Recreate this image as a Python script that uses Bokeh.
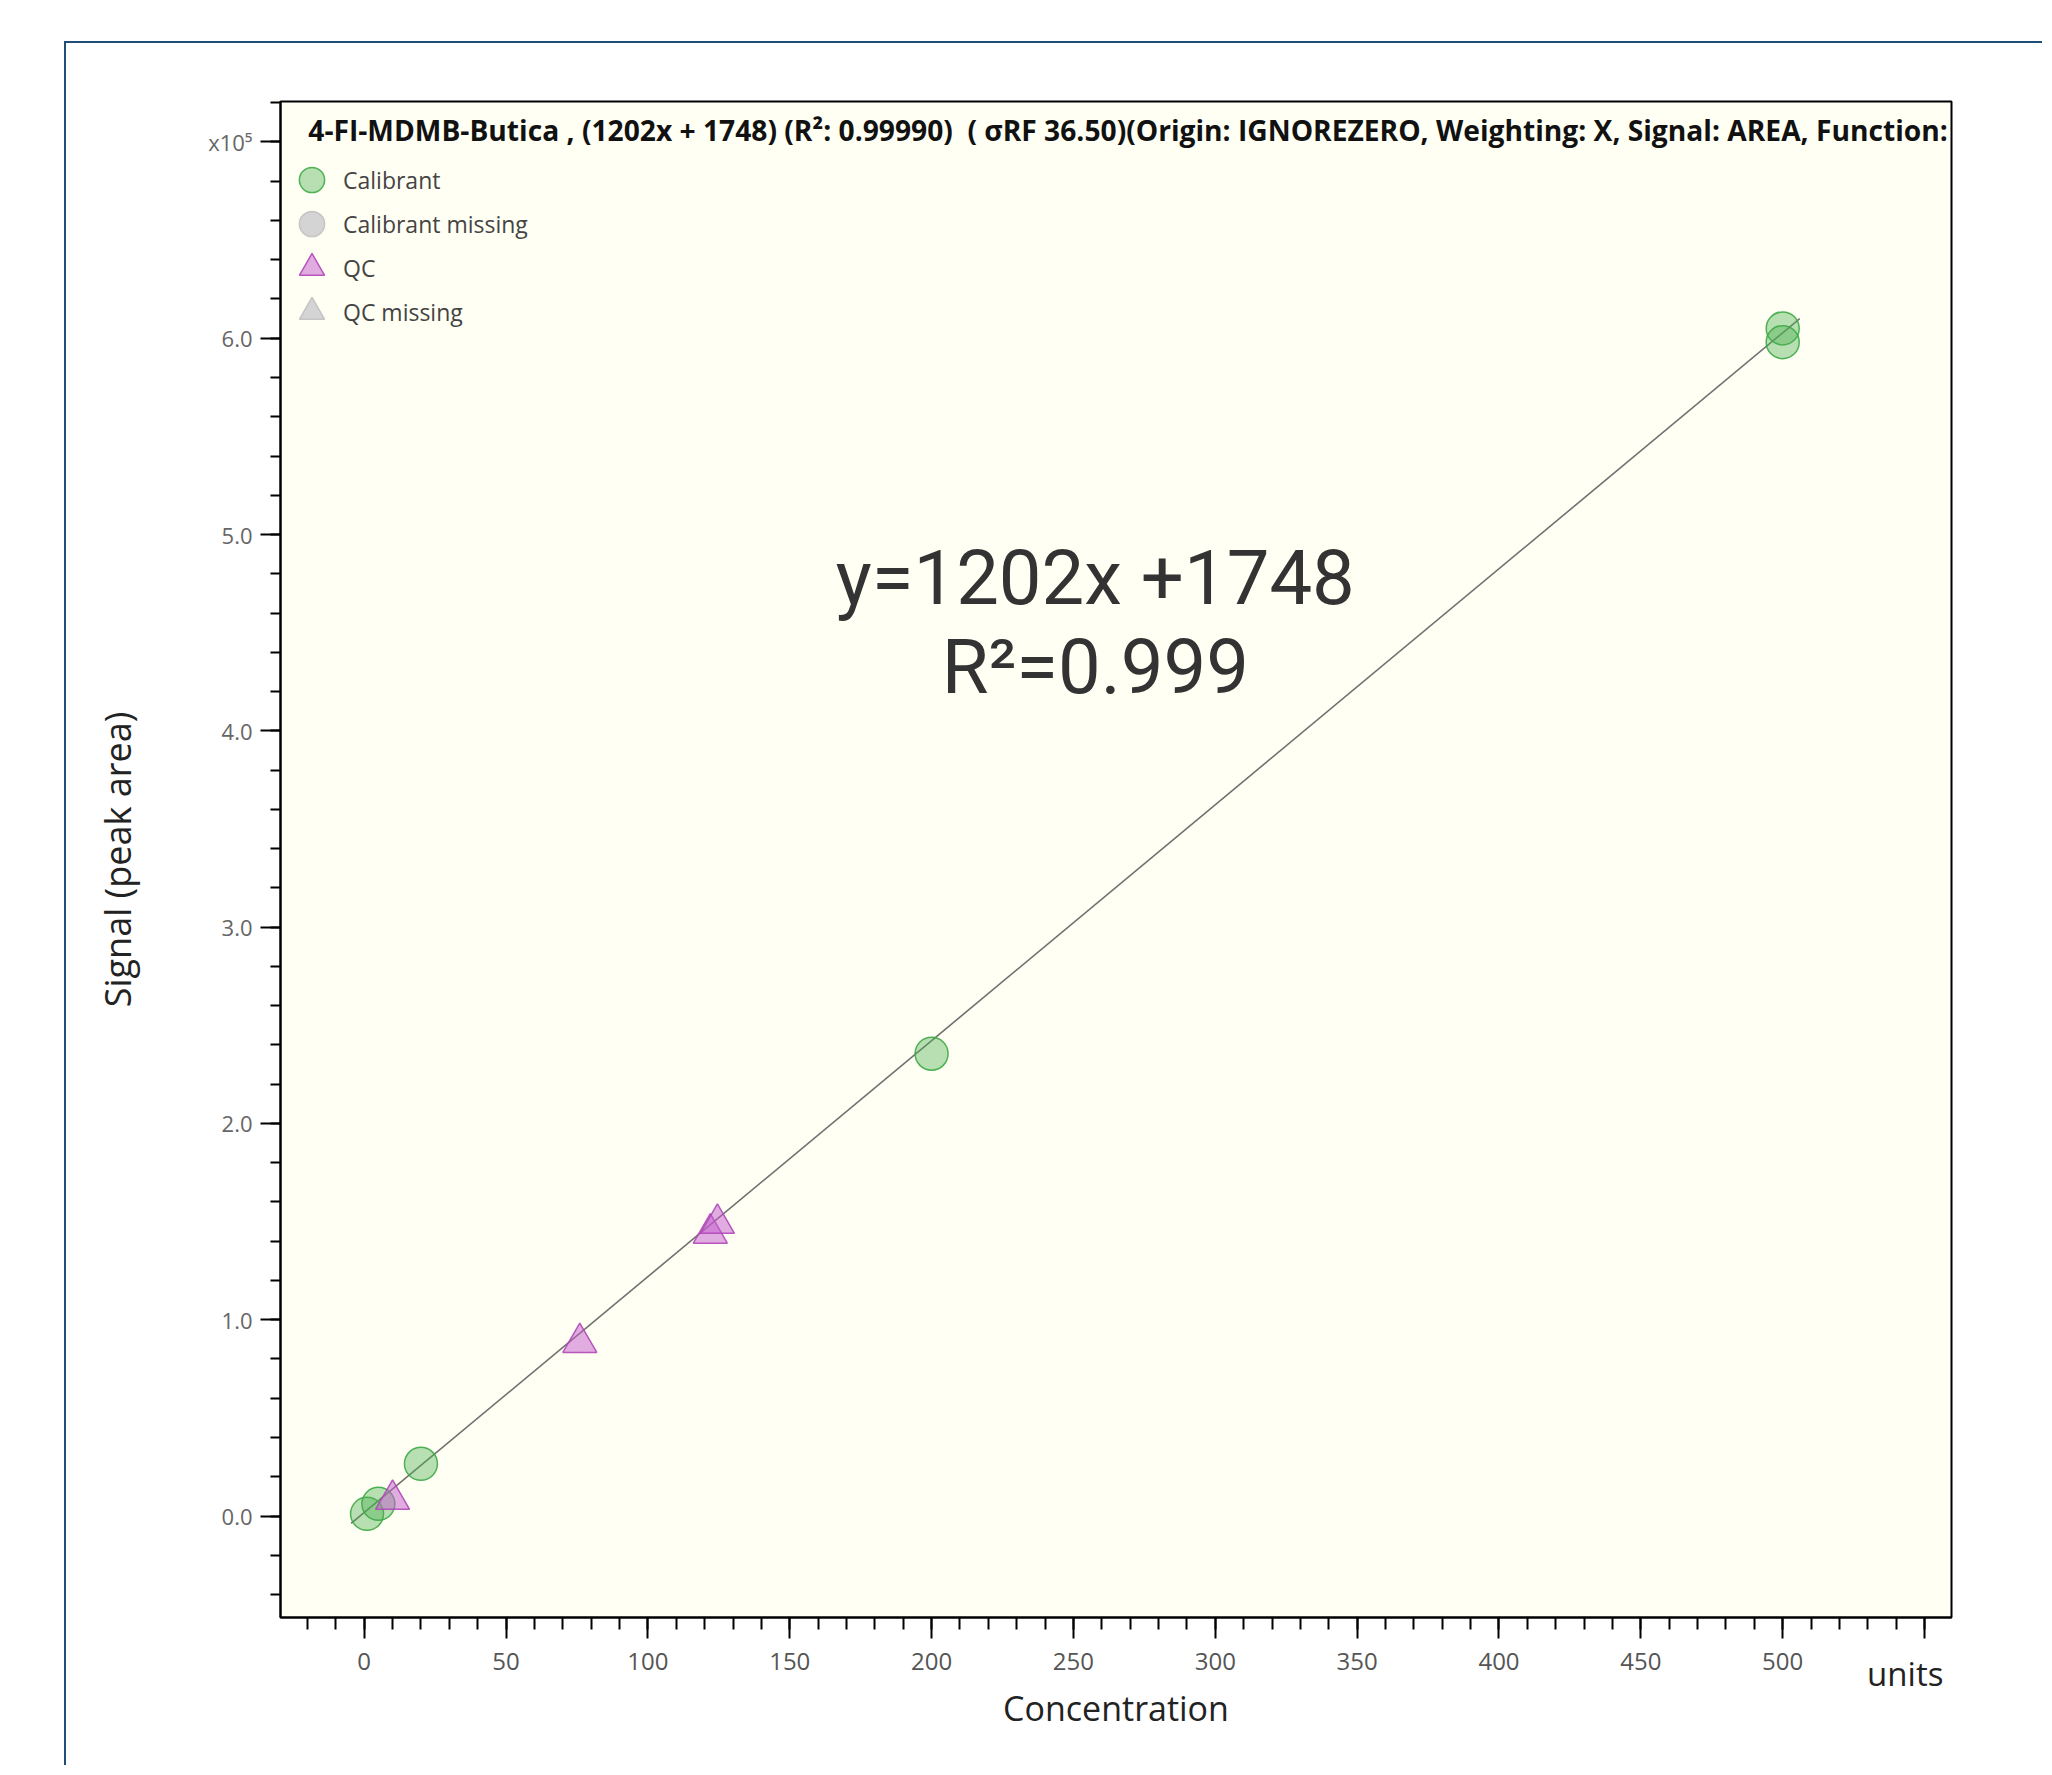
from bokeh.plotting import figure
from bokeh.models import Range1d, FixedTicker, Legend, LegendItem, Label, LinearAxis
from bokeh.embed import file_html
from bokeh.resources import INLINE

# ---------------- data ----------------
cal_conc = [1, 5, 20, 200, 500, 500]
cal_signal = [1100, 6200, 26600, 235500, 605000, 598000]
cal_missing_conc = [float("nan")]      # no missing calibrants shown
cal_missing_signal = [float("nan")]
qc_conc = [10, 76, 122, 124.5]
qc_signal = [8400, 88300, 144000, 149000]
qc_missing_conc = [float("nan")]       # no missing QCs shown
qc_missing_signal = [float("nan")]

slope = 1202
intercept = 1748
fit_conc = [-4.6, 506]
fit_signal = [slope * c + intercept for c in fit_conc]

x_ticks = [0, 50, 100, 150, 200, 250, 300, 350, 400, 450, 500, 550]
x_tick_labels = ["0", "50", "100", "150", "200", "250", "300", "350", "400", "450", "500", ""]
x_minor = list(range(-20, 560, 10))
x_unit_pos = [543.2]
x_unit_label = ["units"]
y_ticks = [0, 100000, 200000, 300000, 400000, 500000, 600000, 700000]
y_tick_labels = ["0.0", "1.0", "2.0", "3.0", "4.0", "5.0", "6.0", "x10\u2075"]
y_minor = list(range(-40000, 720001, 20000))

title_text = ("4-FI-MDMB-Butica , (1202x + 1748) (R\u00b2: 0.99990) \u00a0( \u03c3RF 36.50)"
              "(Origin: IGNOREZERO, Weighting: X, Signal: AREA, Function:")
eq_line1 = "y=1202x +1748"
eq_line2 = "R\u00b2=0.999"

# ---------------- figure ----------------
p = figure(width=1978, height=1724,
           x_range=Range1d(-29.5, 559.5), y_range=Range1d(-51700, 720600),
           output_backend="svg", toolbar_location=None,
           min_border_left=214, min_border_top=58,
           min_border_right=93, min_border_bottom=150)
p.margin = (43, 0, 0, 66)
p.styles = {"box-shadow": "-2px -2px 0 0 #1f4e79"}

p.grid.visible = False
p.background_fill_color = "#FFFFF4"
p.border_fill_color = "white"
p.outline_line_color = "black"
p.outline_line_width = 2

FONT = "Open Sans"

xa = p.xaxis[0]
xa.ticker = FixedTicker(ticks=x_ticks, minor_ticks=x_minor)
xa.major_label_overrides = dict(zip(x_ticks, x_tick_labels))
xa.axis_line_width = 2
xa.axis_line_color = "black"
xa.major_tick_in = 0
xa.major_tick_out = 21
xa.minor_tick_in = 0
xa.minor_tick_out = 12
xa.major_tick_line_width = 2
xa.minor_tick_line_width = 2
xa.major_label_text_font = FONT
xa.major_label_text_font_size = "24px"
xa.major_label_text_color = "#555555"
xa.major_label_standoff = 14

# second (label-only) x axis carrying the "units" tag and the axis title
xa2 = LinearAxis(ticker=FixedTicker(ticks=x_unit_pos, minor_ticks=[]),
                 major_label_overrides=dict(zip(x_unit_pos, x_unit_label)))
xa2.axis_line_color = None
xa2.major_tick_line_color = None
xa2.minor_tick_line_color = None
xa2.major_tick_in = 0
xa2.major_tick_out = 0
xa2.minor_tick_in = 0
xa2.minor_tick_out = 0
xa2.major_label_text_font = FONT
xa2.major_label_text_font_size = "33px"
xa2.major_label_text_color = "#222222"
xa2.major_label_standoff = -22
xa2.axis_label = "Concentration"
xa2.axis_label_text_font = FONT
xa2.axis_label_text_font_size = "34px"
xa2.axis_label_text_font_style = "normal"
xa2.axis_label_text_color = "#222222"
xa2.axis_label_standoff = -14
p.add_layout(xa2, "below")

ya = p.yaxis[0]
ya.ticker = FixedTicker(ticks=y_ticks, minor_ticks=y_minor)
ya.major_label_overrides = dict(zip(y_ticks, y_tick_labels))
ya.axis_line_width = 2
ya.axis_line_color = "black"
ya.major_tick_in = 0
ya.major_tick_out = 20
ya.minor_tick_in = 0
ya.minor_tick_out = 10
ya.major_tick_line_width = 2
ya.minor_tick_line_width = 2
ya.major_label_text_font = FONT
ya.major_label_text_font_size = "22px"
ya.major_label_text_color = "#666666"
ya.major_label_standoff = 8
ya.axis_label = "Signal (peak area)"
ya.axis_label_text_font = FONT
ya.axis_label_text_font_size = "36px"
ya.axis_label_text_font_style = "normal"
ya.axis_label_text_color = "#222222"
ya.axis_label_standoff = 63

# regression line
p.line(fit_conc, fit_signal, line_color="#707070", line_width=1.6)

# points
r_cal = p.scatter(cal_conc, cal_signal, marker="circle", size=33,
                  fill_color="#4CAF50", fill_alpha=0.4,
                  line_color="#3DAA45", line_alpha=0.9, line_width=1.5)
r_cal_m = p.scatter(cal_missing_conc, cal_missing_signal, marker="circle", size=33,
                    fill_color="#D4D4D4", line_color="#C4C4C4", line_width=1.5)
r_qc = p.scatter(qc_conc, qc_signal, marker="triangle", size=34,
                 fill_color="#C45CCB", fill_alpha=0.5,
                 line_color="#B048B8", line_alpha=0.9, line_width=1.5)
r_qc_m = p.scatter(qc_missing_conc, qc_missing_signal, marker="triangle", size=34,
                   fill_color="#D4D4D4", line_color="#C4C4C4", line_width=1.5)

legend_style = dict(orientation="vertical", glyph_width=63, glyph_height=63, spacing=25,
                    padding=0, margin=0, label_standoff=0,
                    label_text_font=FONT, label_text_font_size="23px",
                    label_text_color="#444444", label_height=20,
                    border_line_color=None, background_fill_alpha=0)
legend_a = Legend(items=[LegendItem(label="Calibrant", renderers=[r_cal]),
                         LegendItem(label="QC", renderers=[r_qc])],
                  location=(0, 1318), **legend_style)
legend_b = Legend(items=[LegendItem(label="Calibrant missing", renderers=[r_cal_m]),
                         LegendItem(label="QC missing", renderers=[r_qc_m])],
                  location=(0, 1274), **legend_style)
p.add_layout(legend_a)
p.add_layout(legend_b)

# title inside the plot area
p.add_layout(Label(x=-19.7, y=706000, text=title_text, text_align="left",
                   text_baseline="alphabetic", text_font=FONT,
                   text_font_size="28.2px", text_font_style="bold", text_color="#111111"))

# equation annotation
p.add_layout(Label(x=257.7, y=477800, text=eq_line1, text_align="center",
                   text_baseline="alphabetic", text_font="Roboto",
                   text_font_size="76px", text_color="#333333"))
p.add_layout(Label(x=257.7, y=432500, text=eq_line2, text_align="center",
                   text_baseline="alphabetic", text_font="Roboto",
                   text_font_size="76px", text_color="#333333"))

open("out.html", "w").write(file_html(p, INLINE))
